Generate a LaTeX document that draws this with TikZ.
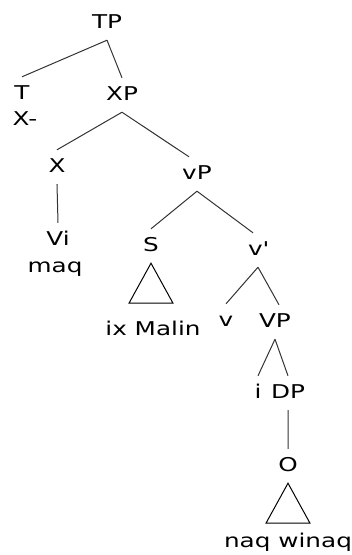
\documentclass[tikz,border=0pt]{standalone}
\usepackage{fontspec}
\setmainfont{DejaVu Sans}[FakeStretch=1.3]
\usetikzlibrary{positioning}
\tikzset{
	on grid, % Distancias medidas entre centros
	every node/.style={font=\fontsize{19}{19}\selectfont, text=black,
		text height=14pt, text depth=4pt, inner xsep=3pt, inner ysep=8pt}, % Etiquetas
	rama/.style={draw=black!80, line width=1pt}, % Ramas del arbol
	techo/.style={draw=black, line width=1pt} % Triangulos
}

\begin{document}
\begin{tikzpicture}
			\useasboundingbox (-107pt,23pt) rectangle (245pt,-532pt);
			\node (TP) at (0,0) {TP};
			\node[below left=71pt and 85pt of TP] (T) {T};
			\node[below right=26pt and 3pt of T] (Xm) {X-};
			\node[below right=72pt and 15pt of TP] (XP) {XP};
			\node[below left=72pt and 65pt of XP] (X) {X};
			\node[below right=73pt and 1pt of X] (Vi) {Vi};
			\node[below left=27pt and 3pt of Vi] (maq) {maq};
			\node[below right=79pt and 75pt of XP] (vP) {vP};
			\node[below left=72pt and 46pt of vP] (S) {S};
			\node[below right=84pt and 2pt of S] (ixMalin) {ix Malin};
			\node[below right=76pt and 61pt of vP] (vbar) {v\textquotesingle};
			\node[below left=71pt and 32pt of vbar] (v) {v};
			\node[below right=72pt and 17pt of vbar] (VP) {VP};
			\node[below left=71pt and 17pt of VP] (i) {i};
			\node[below right=71pt and 13pt of VP] (DP) {DP};
			\node[below=73pt of DP] (O) {O};
			\node[below=76pt of O] (naqwinaq) {naq winaq};
			\draw[rama]	(TP.south) -- (T.north)
					(TP.south) -- (XP.north)
					(XP.south) -- (X.north)
					(XP.south) -- ([xshift=-8pt]vP.north)
					(X.south) -- (Vi.north)
					(vP.south) -- (S.north)
					(vP.south) -- ([xshift=-5pt]vbar.north)
					(vbar.south) -- (v.north)
					(vbar.south) -- ([xshift=4pt]VP.north)
					(VP.south) -- (i.north)
					(VP.south) -- (DP.north)
					(DP.south) -- (O.north)
					;
			\draw[techo] (S.south) -- ++(-22pt,-40pt) -- ++(44pt,0pt) -- cycle;
			\draw[techo] (O.south) -- ++(-22pt,-40pt) -- ++(44pt,0pt) -- cycle;
\end{tikzpicture}
\end{document}
